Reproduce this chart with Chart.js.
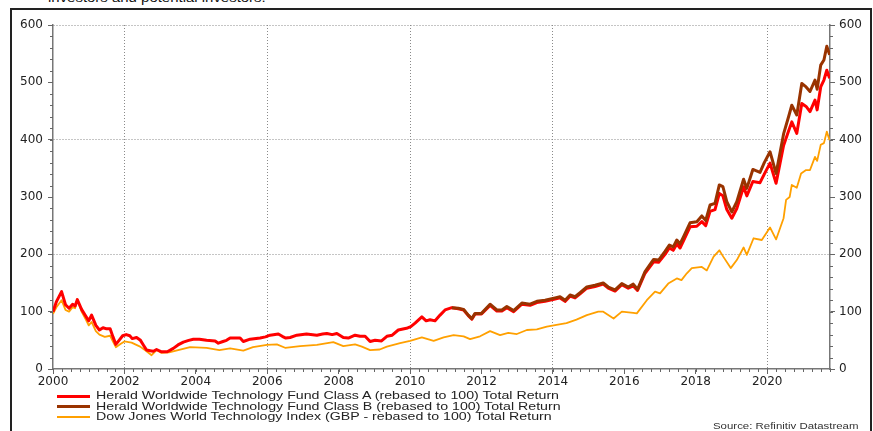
<!DOCTYPE html>
<html>
<head>
<meta charset="utf-8">
<script src="https://cdn.jsdelivr.net/npm/chart.js@4.4.1/dist/chart.umd.min.js"></script>
<style>
  body { margin: 0; background: #fff; overflow: hidden; }
  #wrap { position: relative; width: 873px; height: 431px; overflow: hidden; }
  #frame { position: absolute; left: 10px; top: 8px; width: 858px; height: 440px;
           border: 2px solid #222; border-bottom: none; }
  canvas { position: absolute; left: 0; top: 0; }
  .txt { position: absolute; font-family: "Liberation Sans", Arial, sans-serif; color: #111;
         white-space: nowrap; transform-origin: left center; }
  .leg { position: absolute; left: 57px; height: 10px; }
  .leg span.line { position: absolute; left: 0; width: 33px; top: 50%; }
  .leg span.lab { position: absolute; left: 39px; top: -3px; font-size: 11px; line-height: 14px;
                  font-family: "Liberation Sans", Arial, sans-serif; color: #222; white-space: nowrap;
                  transform: scaleX(1.29); transform-origin: left center; }
</style>
</head>
<body>
<div id="wrap">
  <div class="txt" style="left:48px; top:-9px; font-size:13px; line-height:13px; transform:scaleX(1.15);">investors and potential investors.</div>
  <div id="frame"></div>
  <canvas id="c1" width="873" height="431"></canvas>
  <div class="leg" style="top:391px"><span class="line" style="height:3px;margin-top:-1.5px;background:#ff0000"></span><span class="lab">Herald Worldwide Technology Fund Class A (rebased to 100) Total Return</span></div>
  <div class="leg" style="top:401.5px"><span class="line" style="height:3px;margin-top:-1.5px;background:#993300"></span><span class="lab">Herald Worldwide Technology Fund Class B (rebased to 100) Total Return</span></div>
  <div class="leg" style="top:412px"><span class="line" style="height:2px;margin-top:-1px;background:#ffa000"></span><span class="lab">Dow Jones World Technology Index (GBP - rebased to 100) Total Return</span></div>
  <div class="txt" style="left:713px; top:421px; font-size:9px; line-height:11px; color:#333; transform:scaleX(1.27);">Source: Refinitiv Datastream</div>
</div>
<script>
// Class A (red)
var yearsA = [2000.00, 2000.10, 2000.24, 2000.35, 2000.45, 2000.55, 2000.62, 2000.68, 2000.80, 2000.92,
  2001.00, 2001.08, 2001.20, 2001.30, 2001.40, 2001.50, 2001.60, 2001.68, 2001.76, 2001.85, 2001.95,
  2002.05, 2002.15, 2002.22, 2002.34, 2002.45, 2002.53, 2002.62, 2002.72, 2002.81, 2002.90,
  2003.04, 2003.20, 2003.37, 2003.50, 2003.65, 2003.80, 2003.93, 2004.10, 2004.30, 2004.54, 2004.63,
  2004.76, 2004.86, 2004.96, 2005.24, 2005.33, 2005.52, 2005.80, 2005.95, 2006.08, 2006.31, 2006.42,
  2006.52, 2006.64, 2006.83, 2007.10, 2007.39, 2007.55, 2007.67, 2007.82, 2007.95, 2008.13, 2008.27,
  2008.46, 2008.60, 2008.74, 2008.88, 2009.02, 2009.20, 2009.35, 2009.50, 2009.67, 2009.90, 2010.02,
  2010.14, 2010.33, 2010.45, 2010.56, 2010.70, 2010.84, 2010.98, 2011.17,
  2011.35, 2011.50, 2011.63, 2011.73, 2011.82, 2012.00, 2012.24, 2012.43, 2012.57, 2012.71, 2012.90,
  2013.13, 2013.36, 2013.55, 2013.78, 2014.06, 2014.20, 2014.34, 2014.48, 2014.62, 2014.76, 2014.95,
  2015.18, 2015.41, 2015.55, 2015.74, 2015.93, 2016.11, 2016.25, 2016.37, 2016.58, 2016.82, 2016.96,
  2017.14, 2017.26, 2017.37, 2017.47, 2017.56, 2017.66, 2017.84, 2018.03, 2018.17, 2018.28, 2018.40,
  2018.54, 2018.66, 2018.76, 2018.87, 2019.01, 2019.15, 2019.34, 2019.43, 2019.60, 2019.80, 2019.92,
  2020.08, 2020.25, 2020.46, 2020.60, 2020.69, 2020.83, 2020.97, 2021.09, 2021.20, 2021.34, 2021.40,
  2021.50, 2021.59, 2021.67, 2021.75];
var classA = [100, 118, 135, 112, 106, 113, 110, 121, 104, 92,
  84, 94, 76, 68, 72, 70, 70, 56, 43, 50, 58,
  60, 58, 53, 55, 50, 42, 33, 32, 31, 34,
  30, 30, 36, 42, 47, 50, 52, 52, 50, 49, 45,
  48, 50, 54, 54, 48, 52, 54, 56, 59, 61, 57,
  54, 55, 59, 61, 59, 61, 62, 60, 62, 55, 54,
  59, 57, 57, 48, 50, 49, 57, 59, 68, 71, 74,
  80, 91, 84, 86, 84, 94, 103, 107,
  105, 103, 93, 87, 96, 96, 111, 101, 101, 107, 100,
  113, 111, 116, 118, 122, 124, 118, 127, 124, 131, 141,
  144, 148, 141, 136, 147, 141, 145, 137, 167, 187, 186,
  200, 211, 207, 218, 211, 224, 248, 249, 257, 250, 275,
  278, 306, 302, 278, 263, 280, 318, 302, 327, 325, 340,
  359, 324, 390, 415, 431, 411, 463, 458, 449, 469, 452,
  492, 504, 521, 507];

// Class B (brown), launched 2011
var yearsB = [2011.17, 2011.35, 2011.50, 2011.63, 2011.73, 2011.82, 2012.00, 2012.24, 2012.43, 2012.57,
  2012.71, 2012.90, 2013.13, 2013.36, 2013.55, 2013.78, 2014.06, 2014.20, 2014.34, 2014.48, 2014.62,
  2014.76, 2014.95, 2015.18, 2015.41, 2015.55, 2015.74, 2015.93, 2016.11, 2016.25, 2016.37, 2016.58,
  2016.82, 2016.96, 2017.14, 2017.26, 2017.37, 2017.47, 2017.56, 2017.66, 2017.84, 2018.03, 2018.17,
  2018.28, 2018.40, 2018.54, 2018.66, 2018.76, 2018.87, 2019.01, 2019.15, 2019.34, 2019.43, 2019.60,
  2019.80, 2019.92, 2020.08, 2020.25, 2020.46, 2020.60, 2020.69, 2020.83, 2020.97, 2021.09, 2021.20,
  2021.34, 2021.40, 2021.50, 2021.59, 2021.67, 2021.75];
var classB = [107, 106, 104, 94, 88, 97, 97, 113, 103, 103,
  109, 102, 115, 113, 118, 120, 124, 126, 120, 129, 126,
  133, 143, 146, 150, 143, 138, 149, 143, 148, 139, 170,
  191, 190, 205, 216, 213, 225, 218, 231, 255, 257, 267,
  259, 286, 289, 321, 318, 292, 274, 292, 331, 315, 348,
  343, 360, 379, 341, 410, 440, 460, 443, 498, 492, 484,
  504, 488, 530, 539, 563, 548];

// Dow Jones World Technology Index (orange)
var yearsIdx = [2000.00, 2000.10, 2000.24, 2000.35, 2000.45, 2000.55, 2000.62, 2000.68, 2000.80, 2000.92,
  2001.00, 2001.08, 2001.20, 2001.30, 2001.45, 2001.60, 2001.68, 2001.76, 2001.90, 2002.00, 2002.20,
  2002.44, 2002.62, 2002.76, 2002.90, 2003.04, 2003.25, 2003.56, 2003.84, 2004.30, 2004.66, 2004.96,
  2005.33, 2005.60, 2005.99, 2006.27, 2006.50, 2006.92, 2007.39, 2007.85, 2008.13, 2008.46, 2008.65,
  2008.88, 2009.15, 2009.35, 2009.72, 2010.00, 2010.33, 2010.66, 2010.94, 2011.22, 2011.50, 2011.68,
  2011.96, 2012.24, 2012.52, 2012.75, 2012.99, 2013.27, 2013.55, 2013.83, 2014.10, 2014.38, 2014.66,
  2014.95, 2015.27, 2015.41, 2015.70, 2015.93, 2016.25, 2016.35, 2016.63, 2016.86, 2017.00, 2017.23,
  2017.47, 2017.60, 2017.75, 2017.89, 2018.17, 2018.31, 2018.50, 2018.66, 2018.77, 2018.98, 2019.15,
  2019.34, 2019.43, 2019.62, 2019.85, 2020.08, 2020.25, 2020.46, 2020.53, 2020.63, 2020.69, 2020.83,
  2020.95, 2021.09, 2021.20, 2021.34, 2021.40, 2021.50, 2021.59, 2021.67, 2021.75];
var djIndex = [96, 108, 120, 103, 100, 108, 106, 122, 100, 86,
  76, 82, 66, 60, 56, 58, 48, 38, 44, 48, 46,
  39, 31, 24, 33, 28, 29, 34, 38, 37, 33, 36,
  32, 38, 42, 43, 37, 40, 42, 47, 40, 43, 39,
  33, 34, 39, 45, 49, 55, 49, 55, 59, 57, 52,
  57, 66, 59, 63, 61, 68, 69, 74, 77, 80, 86,
  94, 100, 100, 88, 100, 98, 97, 120, 135, 132, 149,
  158, 155, 167, 176, 178, 172, 196, 207, 196, 176, 190,
  212, 199, 228, 225, 247, 226, 263, 295, 300, 321, 316,
  341, 347, 347, 370, 363, 391, 394, 414, 399];

var yTicks = [0, 100, 200, 300, 400, 500, 600];
var xGridYears = [2002, 2006, 2010, 2014, 2020];
var yGridValues = [200, 400, 600];

function pts(xs, ys) {
  return xs.map(function (x, i) { return { x: x, y: ys[i] }; });
}

// small minor ticks along the axes
var minorTicks = {
  id: 'minorTicks',
  afterDraw: function (chart) {
    var ctx = chart.ctx, a = chart.chartArea;
    var sx = chart.scales.x, sy = chart.scales.y;
    ctx.save();
    ctx.strokeStyle = '#666';
    ctx.lineWidth = 1;
    ctx.beginPath();
    for (var q = 2000; q <= 2021.76; q += 0.25) {
      var px = Math.round(sx.getPixelForValue(q)) + 0.5;
      ctx.moveTo(px, a.bottom);
      ctx.lineTo(px, a.bottom + 3);
    }
    for (var v = 0; v <= 600; v += 20) {
      var py = Math.round(sy.getPixelForValue(v)) + 0.5;
      ctx.moveTo(a.left - 3, py);
      ctx.lineTo(a.left, py);
      ctx.moveTo(a.right, py);
      ctx.lineTo(a.right + 3, py);
    }
    ctx.stroke();
    ctx.restore();
  }
};

var tickFont = { family: 'DejaVu Sans', size: 12 };

new Chart(document.getElementById('c1'), {
  type: 'line',
  data: {
    datasets: [
      { label: 'Class A', data: pts(yearsA, classA), borderColor: '#ff0000', borderWidth: 3, order: 1 },
      { label: 'Class B', data: pts(yearsB, classB), borderColor: '#993300', borderWidth: 3, order: 0 },
      { label: 'DJ World Tech', data: pts(yearsIdx, djIndex), borderColor: '#ffa000', borderWidth: 1.8, order: 2 }
    ]
  },
  options: {
    responsive: false,
    animation: false,
    devicePixelRatio: 1,
    layout: { padding: { top: 25, left: 0, right: 0, bottom: 0 } },
    elements: { point: { radius: 0 }, line: { tension: 0, borderJoinStyle: 'round' } },
    plugins: { legend: { display: false }, tooltip: { enabled: false } },
    scales: {
      x: {
        type: 'linear',
        min: 2000,
        max: 2021.76,
        afterFit: function (s) { s.height = 62; },
        ticks: {
          stepSize: 2, includeBounds: false, maxRotation: 0, autoSkip: false,
          padding: 1, color: '#222', font: tickFont,
          callback: function (v) { return String(v); }
        },
        grid: {
          color: function (c) { return c.tick && xGridYears.indexOf(c.tick.value) >= 0 ? '#8a8a8a' : 'rgba(0,0,0,0)'; },
          tickColor: '#666', tickLength: 5, lineWidth: 1
        },
        border: { color: '#777', width: 1.5, dash: [1, 2] }
      },
      y: {
        position: 'left',
        min: 0, max: 600,
        afterFit: function (s) { s.width = 53; },
        ticks: { stepSize: 100, padding: 5, color: '#222', font: tickFont },
        grid: {
          color: function (c) { return c.tick && yGridValues.indexOf(c.tick.value) >= 0 ? '#8a8a8a' : 'rgba(0,0,0,0)'; },
          tickColor: '#666', tickLength: 5, lineWidth: 1
        },
        border: { color: '#777', width: 1.5, dash: [1, 2] }
      },
      y2: {
        position: 'right',
        min: 0, max: 600,
        afterFit: function (s) { s.width = 43; },
        ticks: { stepSize: 100, padding: 4, color: '#222', font: tickFont },
        grid: { drawOnChartArea: false, tickColor: '#666', tickLength: 5 },
        border: { color: '#777', width: 1.5 }
      }
    }
  },
  plugins: [minorTicks]
});
</script>
</body>
</html>
